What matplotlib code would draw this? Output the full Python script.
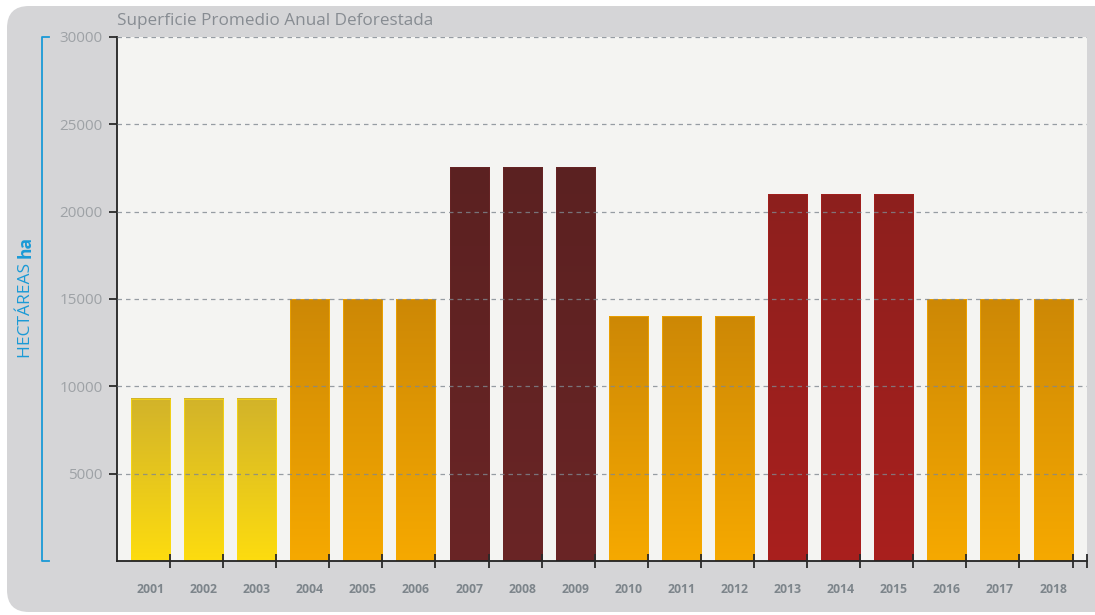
import matplotlib
matplotlib.use("Agg")
import matplotlib.pyplot as plt
import numpy as np
from matplotlib.patches import FancyBboxPatch, Rectangle
from matplotlib.colors import LinearSegmentedColormap
from matplotlib.lines import Line2D
from matplotlib.transforms import IdentityTransform

# ---------------- data ----------------
years = [str(y) for y in range(2001, 2019)]
hectares = [9300, 9300, 9300,
            15000, 15000, 15000,
            22550, 22550, 22550,
            14000, 14000, 14000,
            21000, 21000, 21000,
            15000, 15000, 15000]
y_ticks = [5000, 10000, 15000, 20000, 25000, 30000]
title = "Superficie Promedio Anual Deforestada"
ylabel_main = "HECTÁREAS"
ylabel_unit = "ha"

# ---------------- styles ----------------
YELLOW = ("#d2b32a", "#fddc0f")
ORANGE = ("#cd8806", "#f6a900")
MAROON = ("#5b2121", "#6a2526")
RED = ("#8d201e", "#a91f1d")
bar_grad = [YELLOW] * 3 + [ORANGE] * 3 + [MAROON] * 3 + [ORANGE] * 3 + [RED] * 3 + [ORANGE] * 3

W, H = 1095, 615
fig = plt.figure(figsize=(W / 100, H / 100), dpi=100)
fig.patch.set_facecolor("white")


def fx(px):
    return px / W


def fy(py):
    return 1 - py / H


# gray rounded panel (pixel coordinates, origin bottom-left)
panel = FancyBboxPatch((7, H - 612), 1200, 606,
                       boxstyle="round,pad=0,rounding_size=22",
                       transform=IdentityTransform(),
                       facecolor="#d5d5d7", edgecolor="none", zorder=-10)
fig.add_artist(panel)

ax = fig.add_axes([fx(117), fy(561), fx(1087) - fx(117), fy(37) - fy(561)])
ax.set_zorder(1)
ax.set_facecolor("#f4f4f2")

x = np.arange(len(years))
bar_w = 0.735
bars = ax.bar(x, hectares, width=bar_w, color="none", edgecolor="none", zorder=1)

for patch, (top_c, bot_c) in zip(bars.patches, bar_grad):
    x0 = patch.get_x()
    x1 = x0 + patch.get_width()
    h = patch.get_height()
    cmap = LinearSegmentedColormap.from_list("g", [bot_c, top_c])
    grad = np.linspace(0, 1, 256).reshape(-1, 1)
    ax.imshow(grad, extent=[x0, x1, 0, h], aspect="auto", cmap=cmap,
              origin="lower", zorder=1, interpolation="bilinear")
    ax.add_patch(Rectangle((x0, 0), x1 - x0, h, facecolor="none",
                           edgecolor=bot_c, linewidth=0.6, joinstyle="miter",
                           alpha=0.8, zorder=1.5))

ax.set_xlim(-0.631, 17.64)
ax.set_ylim(0, 30000)
ax.set_aspect("auto")

# grid on top of bars
ax.set_axisbelow(False)
ax.yaxis.grid(True, linestyle=(0, (3.6, 3.2)), color="#7f8890",
              linewidth=0.9, alpha=0.8)
ax.xaxis.grid(False)

# y axis
ax.set_yticks(y_ticks)
ax.set_yticklabels([str(v) for v in y_ticks], family="Open Sans",
                   fontsize=11, color="#9ea2a6")
ax.tick_params(axis="y", direction="out", length=5.5, width=1.3,
               color="#2a2a2a", pad=5)

# x axis
ax.set_xticks(x)
ax.set_xticklabels(years, family="Open Sans", fontweight="bold",
                   fontsize=8.8, color="#7d858b")
ax.tick_params(axis="x", which="major", length=0, pad=16)
edges = [p.get_x() + p.get_width() for p in bars.patches] + [ax.get_xlim()[1]]
ax.set_xticks(edges, minor=True)
ax.tick_params(axis="x", which="minor", direction="inout", length=10,
               width=1.3, color="#2a2a2a")

for s in ("top", "right"):
    ax.spines[s].set_visible(False)
for s in ("left", "bottom"):
    ax.spines[s].set_color("#222222")
    ax.spines[s].set_linewidth(1.3)

# title
fig.text(fx(117), fy(21), title, ha="left", va="center", fontsize=12.3,
         color="#878c92", family="Open Sans")

# y label: normal + bold parts, stacked along rotated direction
blue = "#1a9ad6"
t1 = fig.text(fx(26), fy(358), ylabel_main + " ", rotation=90, ha="center",
              va="bottom", fontsize=12.5, color=blue, family="Open Sans")
fig.canvas.draw()
bb = t1.get_window_extent(renderer=fig.canvas.get_renderer())
fig.text(fx(26), bb.y1 / H, ylabel_unit, rotation=90, ha="center",
         va="bottom", fontsize=12.5, color=blue, family="Open Sans",
         fontweight="bold")

# bracket
fig.add_artist(Line2D([fx(49), fx(42), fx(42), fx(49)],
                      [fy(37), fy(37), fy(561), fy(561)],
                      transform=fig.transFigure, color=blue, linewidth=1.3))

fig.savefig("out.png", dpi=100)
